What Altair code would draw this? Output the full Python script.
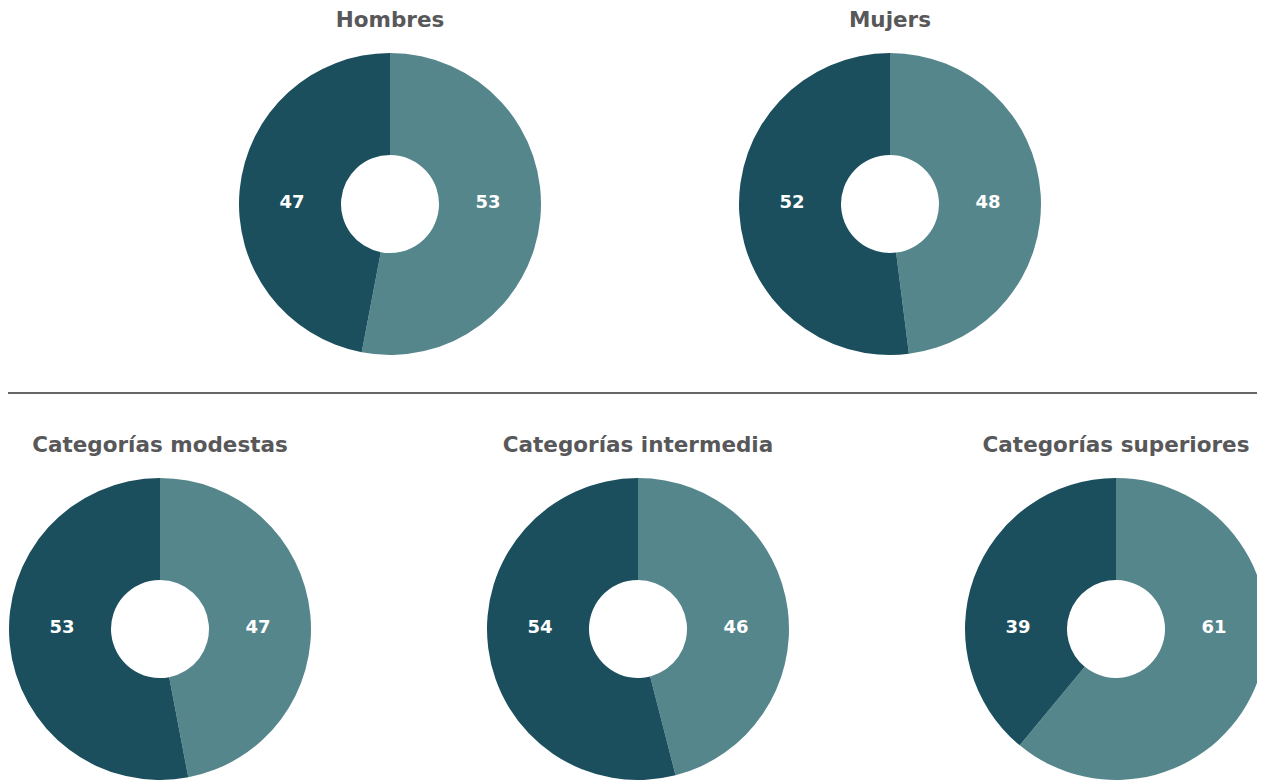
import altair as alt
import pandas as pd

groups = ["Hombres", "Mujers", "Categorías modestas", "Categorías intermedia", "Categorías superiores"]
light_values = [53, 48, 47, 46, 61]
dark_values = [47, 52, 53, 54, 39]
series_names = ["light", "dark"]
colors = ["#55868c", "#1b4f5e"]

# layout (pixel positions inside the chart)
centers = [(382, 196), (882, 196), (152, 621), (630, 621), (1108, 621)]
title_y = [13, 13, 438, 438, 438]
W, H = 1249, 772
R_OUT, R_IN = 151, 49
LABEL_OFF = 98
FONT = "DejaVu Sans"

rows = []
for g, lv, dv in zip(groups, light_values, dark_values):
    rows.append({"group": g, "series": "light", "value": lv, "ord": 0})
    rows.append({"group": g, "series": "dark", "value": dv, "ord": 1})
df = pd.DataFrame(rows)

layers = []
color_scale = alt.Scale(domain=series_names, range=colors)
for i, g in enumerate(groups):
    cx, cy = centers[i]
    base = alt.Chart(df).transform_filter(alt.datum.group == g)
    arc = base.mark_arc(outerRadius=R_OUT, innerRadius=R_IN, stroke=None).encode(
        theta=alt.Theta("value:Q", stack=True, scale=alt.Scale(domain=[0, 100])),
        color=alt.Color("series:N", scale=color_scale, legend=None),
        order=alt.Order("ord:Q"),
        x=alt.value(cx),
        y=alt.value(cy),
    )
    layers.append(arc)
    for s, off in (("light", LABEL_OFF), ("dark", -LABEL_OFF)):
        t = base.transform_filter(alt.datum.series == s).mark_text(
            font=FONT, fontWeight="bold", fontSize=18, color="white",
            align="center", baseline="middle",
        ).encode(text=alt.Text("value:Q"), x=alt.value(cx + off), y=alt.value(cy - 1))
        layers.append(t)
    title = alt.Chart(pd.DataFrame({"t": [g]})).mark_text(
        font=FONT, fontWeight="bold", fontSize=21.5, color="#58585a",
        align="center", baseline="middle",
    ).encode(text="t:N", x=alt.value(cx), y=alt.value(title_y[i]))
    layers.append(title)

rule = alt.Chart(pd.DataFrame({"a": [0]})).mark_rule(color="#333333", strokeWidth=1.5).encode(
    x=alt.value(0), x2=alt.value(W), y=alt.value(385)
)
layers.append(rule)

chart = alt.layer(*layers).properties(
    width=W, height=H, padding=0, autosize=alt.AutoSizeParams(type="none")
).configure_view(stroke=None)

chart.save("out.html", embed_options={"renderer": "svg", "actions": False})
